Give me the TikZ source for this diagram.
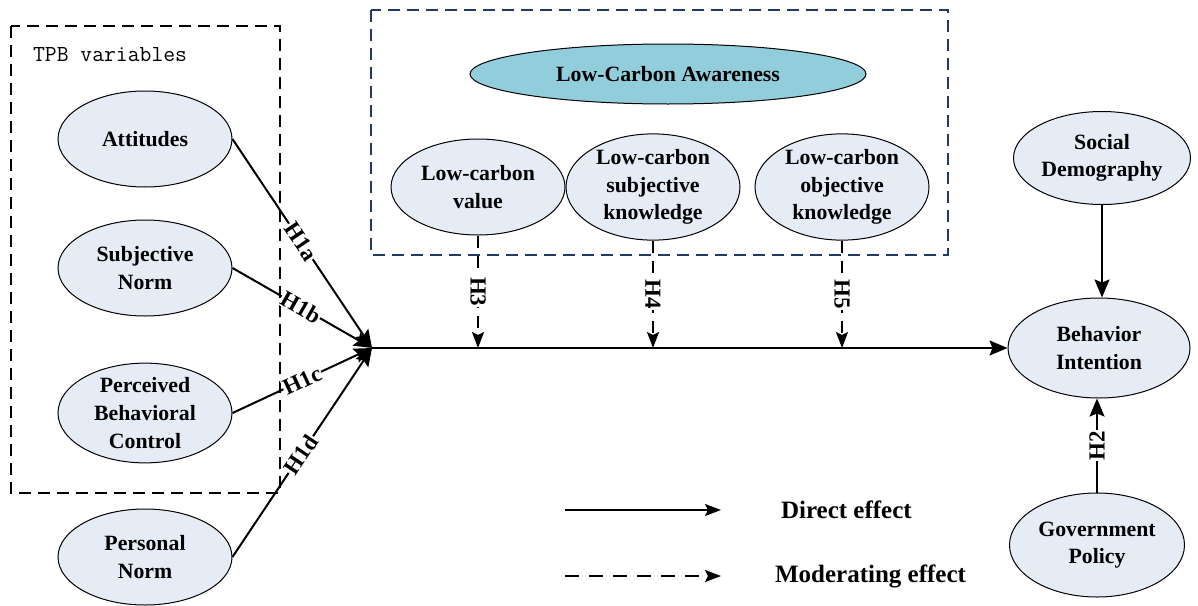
\documentclass[tikz,border=0pt]{standalone}
\usepackage{fontspec}
\setmainfont{Liberation Serif}
\usetikzlibrary{shapes.geometric,arrows.meta}
\definecolor{ellfill}{HTML}{E6ECF6}
\definecolor{awfill}{HTML}{92CDDC}
\definecolor{navy}{HTML}{1F3A68}
\tikzset{
  ell/.style={ellipse, draw=black, line width=0.5pt, fill=ellfill, inner sep=0pt,
    minimum width=87pt, minimum height=48pt, align=center,
    font=\fontsize{10.9}{13.8}\selectfont\bfseries},
  direct/.style={line width=1pt, -{Stealth[length=9pt,width=7.5pt,inset=1.5pt]}},
  moder/.style={line width=1pt, dash pattern=on 6pt off 4pt, -{Stealth[length=8pt,width=6pt,inset=1.5pt]}},
  hlab/.style={fill=white, inner sep=0.4pt, sloped, font=\fontsize{11.5}{12}\selectfont\bfseries},
  legtext/.style={font=\fontsize{12.5}{14}\selectfont\bfseries, anchor=west},
  groupbox/.style={line width=0.8pt, dash pattern=on 6pt off 3.5pt}
}
\begin{document}
\begin{tikzpicture}[x=0.5pt,y=-0.5pt]
\useasboundingbox (0,0) rectangle (1198,605);
% group boxes
\draw[groupbox] (11,26) rectangle (280,493);
\draw[groupbox, draw=navy, line width=1pt] (371,10) rectangle (948,255);
\node[font=\fontsize{11.5}{13}\selectfont\ttfamily, anchor=west] (tpb) at (26,55) {TPB variables};
% TPB nodes
\node[ell] (att) at (145,139) {Attitudes};
\node[ell] (sn) at (145,268) {Subjective\\Norm};
\node[ell] (pbc) at (145,413) {Perceived\\Behavioral\\Control};
\node[ell] (pn) at (145,557) {Personal\\Norm};
% awareness
\node[ell, fill=awfill, minimum width=198pt, minimum height=30pt] (aw) at (668,74) {Low-Carbon Awareness};
\node[ell] (lcv) at (478,187) {Low-carbon\\value};
\node[ell] (lcs) at (653,187) {Low-carbon\\subjective\\knowledge};
\node[ell] (lco) at (842,187) {Low-carbon\\objective\\knowledge};
% right side
\node[ell, minimum width=88.5pt, minimum height=46.5pt] (sd) at (1102,158) {Social\\Demography};
\node[ell, minimum width=91pt, minimum height=50pt] (bi) at (1099,348) {Behavior\\Intention};
\node[ell, minimum width=87.5pt, minimum height=52pt] (gp) at (1097,545) {Government\\Policy};
% convergence
\coordinate (c) at (372,348);
\coordinate (m3) at (478,348);
\coordinate (m4) at (653,348);
\coordinate (m5) at (842,348);
\draw[direct] (att.east) -- node[hlab, pos=0.49] {H1a} (c);
\draw[direct] (sn.east) -- node[hlab, pos=0.49] {H1b} (c);
\draw[direct] (pbc.east) -- node[hlab, pos=0.5] {H1c} (c);
\draw[direct] (pn.east) -- node[hlab, pos=0.49] {H1d} (c);
\draw[direct] (c) -- (bi.west);
\draw[moder] (lcv.south) -- node[hlab, pos=0.5] {H3} (m3);
\draw[moder] (lcs.south) -- node[hlab, pos=0.5] {H4} (m4);
\draw[moder] (lco.south) -- node[hlab, pos=0.5] {H5} (m5);
\draw[direct] (sd.south) -- (sd.south |- bi.north);
\draw[direct] (gp.north) -- node[hlab, pos=0.5] {H2} (gp.north |- bi.south);
% legend
\coordinate (l1a) at (565,510); \coordinate (l1b) at (721,510);
\coordinate (l2a) at (565,576); \coordinate (l2b) at (721,576);
\draw[line width=1pt, -{Stealth[length=8pt,width=6pt,inset=1.5pt]}] (l1a) -- (l1b);
\draw[line width=1pt, dash pattern=on 7pt off 5pt, -{Stealth[length=8pt,width=6pt,inset=1.5pt]}] (l2a) -- (l2b);
\node[legtext] (lt1) at (774,510) {Direct effect};
\node[legtext] (lt2) at (768,576) {Moderating effect};
\end{tikzpicture}
\end{document}
